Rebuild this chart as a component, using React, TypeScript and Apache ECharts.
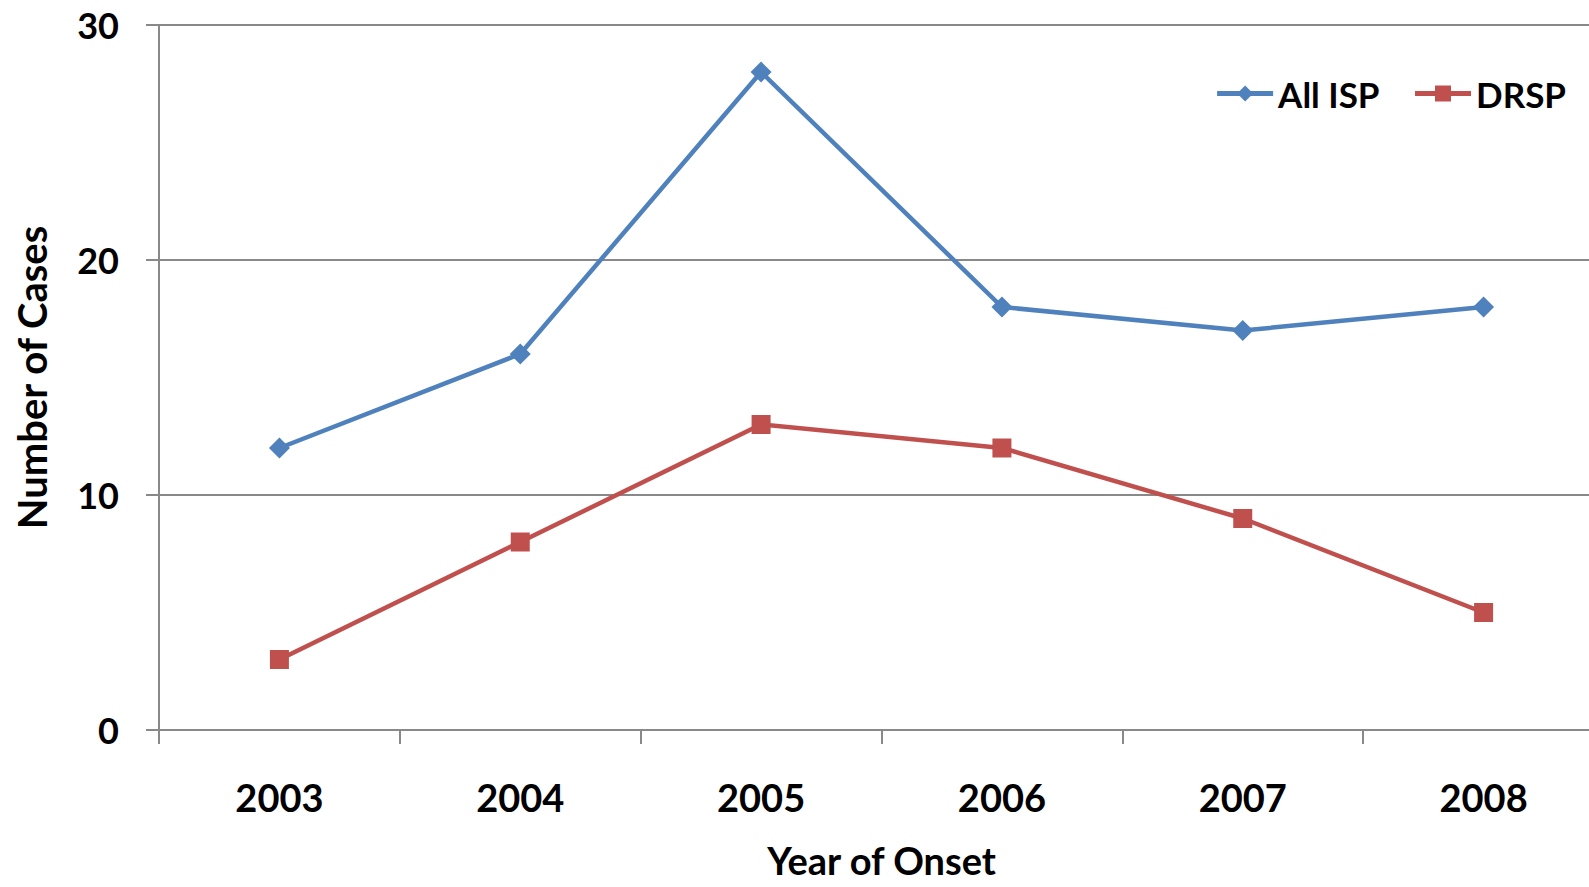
import React, { useEffect, useRef } from "react";
import * as echarts from "echarts";

// Years of onset and case counts per year
const years = ["2003", "2004", "2005", "2006", "2007", "2008"];
const allIsp = [12, 16, 28, 18, 17, 18];
const drsp = [3, 8, 13, 12, 9, 5];
const yTicks = { min: 0, max: 30, interval: 10 };

const FONT = "Lato, 'Open Sans', sans-serif";
const AXIS_GRAY = "#898989";

export default function App() {
  const ref = useRef<HTMLDivElement>(null);

  useEffect(() => {
    if (!ref.current) return;
    const chart = echarts.init(ref.current, undefined, { renderer: "svg" });
    chart.setOption({
      animation: false,
      backgroundColor: "#ffffff",
      textStyle: { fontFamily: FONT },
      // the plot area runs past the right edge, so the grid is laid out freely
      grid: {
        left: 159,
        right: -15,
        top: 25,
        bottom: 157,
        containLabel: false,
        outerBoundsMode: "none",
      },
      legend: {
        right: 18,
        top: 71,
        itemWidth: 56,
        itemHeight: 20,
        itemGap: 33,
        lineStyle: { width: 5 },
        textStyle: { fontFamily: FONT, fontWeight: "bold", fontSize: 35, color: "#000" },
        data: ["All ISP", "DRSP"],
      },
      xAxis: {
        type: "category",
        data: years,
        boundaryGap: true,
        name: "Year of Onset",
        nameLocation: "middle",
        nameGap: 111,
        nameTextStyle: { fontFamily: FONT, fontWeight: "bold", fontSize: 38, color: "#000" },
        axisLine: { lineStyle: { color: AXIS_GRAY, width: 2 } },
        axisTick: { show: true, length: 14, lineStyle: { color: AXIS_GRAY, width: 2 } },
        axisLabel: { margin: 48, fontFamily: FONT, fontWeight: "bold", fontSize: 38, color: "#000" },
      },
      yAxis: {
        type: "value",
        min: yTicks.min,
        max: yTicks.max,
        interval: yTicks.interval,
        name: "Number of Cases",
        nameLocation: "middle",
        nameGap: 107,
        nameTextStyle: { fontFamily: FONT, fontWeight: "bold", fontSize: 40, color: "#000" },
        axisLine: { show: true, lineStyle: { color: AXIS_GRAY, width: 2 } },
        axisTick: { show: true, length: 13, lineStyle: { color: AXIS_GRAY, width: 2 } },
        axisLabel: { margin: 40, fontFamily: FONT, fontWeight: "bold", fontSize: 36, color: "#000" },
        splitLine: { show: true, lineStyle: { color: AXIS_GRAY, width: 2 } },
      },
      series: [
        {
          name: "All ISP",
          type: "line",
          data: allIsp,
          symbol: "diamond",
          symbolSize: 21,
          color: "#4F81BD",
          lineStyle: { width: 4.5, color: "#4F81BD" },
          itemStyle: { color: "#4F81BD" },
        },
        {
          name: "DRSP",
          type: "line",
          data: drsp,
          symbol: "rect",
          symbolSize: 19,
          color: "#C0504D",
          lineStyle: { width: 4.5, color: "#C0504D" },
          itemStyle: { color: "#C0504D" },
        },
      ],
    });
    return () => chart.dispose();
  }, []);

  return (
    <div
      ref={ref}
      style={{ position: "fixed", left: 0, top: 0, width: 1589, height: 887, background: "#fff" }}
    />
  );
}
